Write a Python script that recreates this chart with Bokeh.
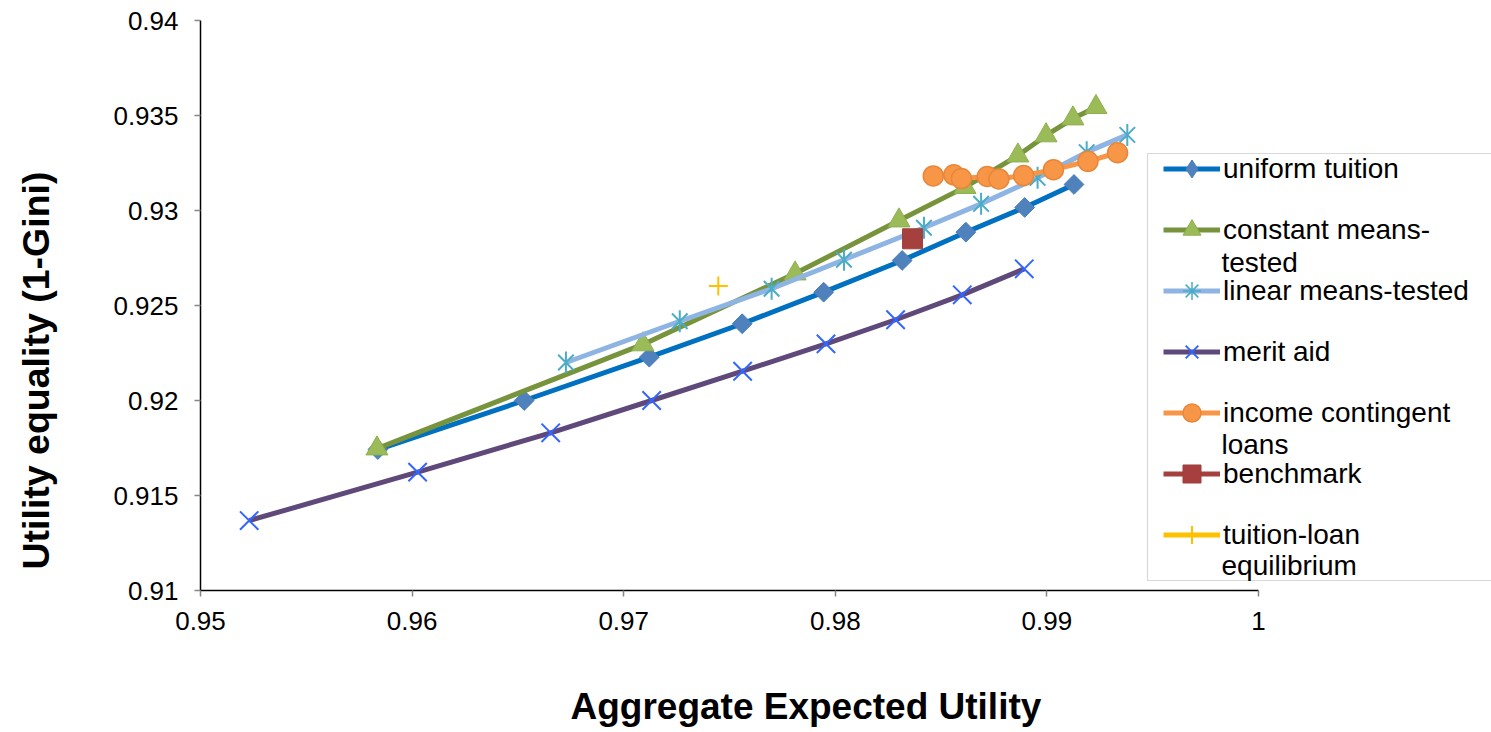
import numpy as np
from bokeh.plotting import figure
from bokeh.models import (Range1d, FixedTicker, Legend, LegendItem, Label, BoxAnnotation,
                          LinearAxis, Title)
from bokeh.embed import file_html
from bokeh.resources import INLINE

# ---------------- data ----------------
x_ticks = [0.95, 0.96, 0.97, 0.98, 0.99, 1.0]
x_tick_labels = ["0.95", "0.96", "0.97", "0.98", "0.99", "1"]
y_ticks = [0.91, 0.915, 0.92, 0.925, 0.93, 0.935, 0.94]
y_tick_labels = ["0.91", "0.915", "0.92", "0.925", "0.93", "0.935", "0.94"]

uniform_x = [0.95838, 0.96530, 0.97121, 0.97560, 0.97945, 0.98316, 0.98617, 0.98895, 0.99128]
uniform_y = [0.91742, 0.92000, 0.92228, 0.92404, 0.92570, 0.92737, 0.92886, 0.93016, 0.93137]

constant_x = [0.95834, 0.97091, 0.97810, 0.98301, 0.98613, 0.98863, 0.98996, 0.99123, 0.99232]
constant_y = [0.91747, 0.92295, 0.92668, 0.92947, 0.93123, 0.93289, 0.93395, 0.93484, 0.93544]

linear_x = [0.96727, 0.97265, 0.97699, 0.98041, 0.98419, 0.98689, 0.98956, 0.99188, 0.99380]
linear_y = [0.92200, 0.92417, 0.92588, 0.92741, 0.92909, 0.93035, 0.93172, 0.93307, 0.93398]

merit_x = [0.95230, 0.96026, 0.96655, 0.97132, 0.97562, 0.97956, 0.98285, 0.98600, 0.98893]
merit_y = [0.91368, 0.91623, 0.91830, 0.92000, 0.92154, 0.92298, 0.92425, 0.92556, 0.92693]

income_x = [0.98463, 0.98560, 0.98596, 0.98718, 0.98773, 0.98890, 0.99031, 0.99194, 0.99334]
income_y = [0.93182, 0.93188, 0.93168, 0.93179, 0.93166, 0.93184, 0.93215, 0.93259, 0.93304]

benchmark_x = [0.98365]
benchmark_y = [0.92851]

equilibrium_x = [0.97447]
equilibrium_y = [0.92602]

FONT = "Liberation Sans"

# the frame runs to the right window edge so the legend is not clipped;
# the x axis itself is bounded to 0.95 .. 1
X_END = 0.95 + 1291 / 21160

p = figure(width=1491, height=732, output_backend="svg", toolbar_location=None,
           x_range=Range1d(0.95, X_END), y_range=Range1d(0.91, 0.94),
           min_border_left=200, min_border_right=0, min_border_top=20, min_border_bottom=142)
p.outline_line_color = None
p.xgrid.visible = False
p.ygrid.visible = False
p.background_fill_color = "white"
p.border_fill_color = "white"

for ax, ticks, labels in ((p.xaxis[0], x_ticks, x_tick_labels), (p.yaxis[0], y_ticks, y_tick_labels)):
    ax.ticker = FixedTicker(ticks=ticks, minor_ticks=[])
    ax.major_label_overrides = {t: l for t, l in zip(ticks, labels)}
    ax.axis_line_color = "black"
    ax.axis_line_width = 1.5
    ax.major_tick_line_color = "#868686"
    ax.major_tick_line_width = 1.5
    ax.major_tick_out = 6
    ax.major_tick_in = 0
    ax.minor_tick_line_color = None
    ax.major_label_text_font = FONT
    ax.major_label_text_font_size = "26px"
    ax.major_label_text_color = "black"
    ax.axis_label = None

p.xaxis.bounds = (0.95, 1.0)
p.xaxis.major_label_standoff = 15
p.yaxis.major_label_standoff = 16


def spacer_axis(tick, gap):
    ax = LinearAxis(ticker=FixedTicker(ticks=[tick], minor_ticks=[]),
                    major_tick_out=gap, major_tick_in=0,
                    axis_line_color=None, major_tick_line_color="white",
                    minor_tick_line_color=None, axis_label=None,
                    major_label_overrides={tick: ""}, major_label_standoff=0,
                    major_label_text_font_size="1px")
    return ax


# blank spacers between tick labels and the axis titles
p.add_layout(spacer_axis(0.94, 53), "left")
p.add_layout(Title(text="Utility equality (1-Gini)", align="left", offset=21,
                   vertical_align="middle", standoff=0, text_font=FONT,
                   text_font_size="37.5px", text_font_style="bold", text_color="black"), "left")

p.add_layout(spacer_axis(1.0, 52), "below")
p.add_layout(Title(text="Aggregate Expected Utility", align="left", offset=370,
                   vertical_align="middle", standoff=0, text_font=FONT,
                   text_font_size="37px", text_font_style="bold", text_color="black"), "below")

# ---------------- series ----------------
l1 = p.line(uniform_x, uniform_y, line_width=5, line_color="#0070C0", line_join="round")
m1_leg = p.scatter(uniform_x, uniform_y, marker="diamond", size=19,
                   fill_color="#4F81BD", line_color="#4A7EBB", line_width=1, visible=False)
m1 = p.scatter(uniform_x, uniform_y, marker="square", angle=np.pi / 4, size=14,
               fill_color="#4F81BD", line_color="#4A7EBB", line_width=1)

l2 = p.line(constant_x, constant_y, line_width=5, line_color="#77933C", line_join="round")
m2 = p.scatter(constant_x, constant_y, marker="triangle", size=22,
               fill_color="#9BBB59", line_color="#8DB04D", line_width=1)

l3 = p.line(linear_x, linear_y, line_width=5, line_color="#8EB4E3", line_join="round")
m3a = p.scatter(linear_x, linear_y, marker="x", size=22, line_color="#4BACC6", line_width=2)
m3b = p.scatter(linear_x, linear_y, marker="dash", angle=np.pi / 2, size=22,
                line_color="#4BACC6", line_width=2)
m3_leg = p.scatter(linear_x, linear_y, marker="asterisk", size=18, line_color="#4BACC6",
                   line_width=1.5, visible=False)

l4 = p.line(merit_x, merit_y, line_width=5, line_color="#5F497A", line_join="round")
m4 = p.scatter(merit_x, merit_y, marker="x", size=26, line_color="#3366FF", line_width=2)

l5 = p.line(income_x, income_y, line_width=5, line_color="#F79646", line_join="round")
m5 = p.scatter(income_x, income_y, marker="circle", size=20,
               fill_color="#F79646", line_color="#E8873A", line_width=1.5)

l6 = p.line(benchmark_x, benchmark_y, line_width=5, line_color="#A5403F")
m6 = p.scatter(benchmark_x, benchmark_y, marker="square", size=20,
               fill_color="#A5403F", line_color="#A03D3C", line_width=1)

l7 = p.line(equilibrium_x, equilibrium_y, line_width=5, line_color="#FFC000")
m7 = p.scatter(equilibrium_x, equilibrium_y, marker="cross", size=19,
               line_color="#FFC000", line_width=2)

# ---------------- legend ----------------
box = BoxAnnotation(left=947, right=1400, bottom=10, top=437,
                    left_units="screen", right_units="screen",
                    bottom_units="screen", top_units="screen",
                    fill_alpha=0, line_color="#808080", line_width=1.2)
p.add_layout(box)

legend = Legend(items=[
    LegendItem(label="uniform tuition", renderers=[l1, m1_leg]),
    LegendItem(label="constant means-", renderers=[l2, m2]),
    LegendItem(label="linear means-tested", renderers=[l3, m3_leg]),
    LegendItem(label="merit aid", renderers=[l4, m4]),
    LegendItem(label="income contingent", renderers=[l5, m5]),
    LegendItem(label="benchmark", renderers=[l6, m6]),
    LegendItem(label="tuition-loan", renderers=[l7, m7]),
], location=(963, 33))
legend.margin = 0
legend.padding = 5
legend.spacing = 16
legend.glyph_width = 57
legend.glyph_height = 45
legend.label_height = 45
legend.label_standoff = 3
legend.label_text_font = FONT
legend.label_text_font_size = "28px"
legend.label_text_color = "black"
legend.border_line_color = None
legend.background_fill_alpha = 0
p.add_layout(legend, "center")

for txt, yy in (("tested", 328), ("loans", 146), ("equilibrium", 25)):
    p.add_layout(Label(x=1021, y=yy, x_units="screen", y_units="screen", text=txt,
                       text_font=FONT, text_font_size="28px", text_color="black",
                       text_baseline="middle", text_align="left"))

open("out.html", "w").write(file_html(p, INLINE))
